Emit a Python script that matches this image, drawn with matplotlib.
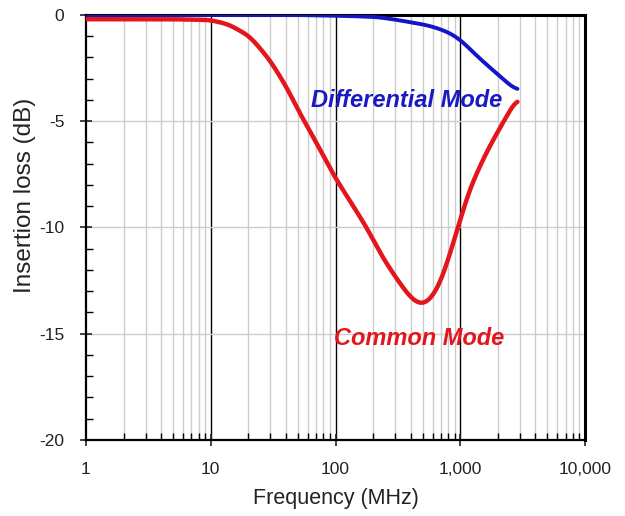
# insertion loss of common mode choke, common vs differential
import numpy as np
import matplotlib
matplotlib.use('Agg')
import matplotlib.pyplot as plt
from matplotlib.ticker import FixedLocator, FuncFormatter, MultipleLocator

plt.rcParams['font.family'] = ['Liberation Sans', 'DejaVu Sans']
plt.rcParams['axes.unicode_minus'] = False

# data
cm_freq = [1, 5, 10, 14, 20.5, 29.6, 40.3, 51.5, 70.1, 98, 129, 176, 238, 325, 413, 497, 597, 722, 982, 1180, 1607, 2180, 2873]
cm_loss = [-0.2, -0.2, -0.24, -0.45, -1.0, -2.1, -3.37, -4.6, -6.0, -7.6, -8.7, -9.96, -11.4, -12.6, -13.4, -13.65, -13.3, -12.35, -9.8, -8.24, -6.5, -5.1, -3.9]
dm_freq = [1, 50, 130, 220, 325, 565, 800, 1000, 1400, 2000, 2873]
dm_loss = [0.0, 0.0, -0.05, -0.1, -0.25, -0.5, -0.8, -1.15, -2.0, -2.8, -3.6]
x_ticks = [1, 10, 100, 1000, 10000]
y_ticks = [0, -5, -10, -15, -20]

fig = plt.figure(figsize=(6.25, 5.16), dpi=100)
ax = fig.add_axes([0.1376, 0.1473, 0.7984, 0.8237])

# grid: light minor, black decades
minor = [m * d for d in [1, 10, 100, 1000] for m in range(2, 10)]
for x in minor:
  ax.axvline(x, color='#cccccc', lw=1, zorder=0)
for x in x_ticks[1:-1]:
  ax.axvline(x, color='black', lw=1, zorder=0)
for y in y_ticks[1:-1]:
  ax.axhline(y, color='#cccccc', lw=1, zorder=0)

# smooth curve through read points (in log-frequency)
def smooth(fr, lo, k=5):
  lx = np.log10(fr)
  xx = np.linspace(lx[0], lx[-1], 500)
  yy = np.interp(xx, lx, lo)
  for _ in range(2):
    yp = np.pad(yy, k, mode='edge')
    yy = np.convolve(yp, np.ones(2 * k + 1) / (2 * k + 1), mode='same')[k:-k]
  return 10 ** xx, yy

x1, y1 = smooth(cm_freq, cm_loss, 6)
x2, y2 = smooth(dm_freq, dm_loss, 8)
ax.plot(x1, y1, color='#e3161c', lw=3.2, solid_capstyle='round', zorder=3)
ax.plot(x2, y2, color='#1414c8', lw=2.8, solid_capstyle='round', zorder=4)

ax.text(64, -4.33, 'Differential Mode', color='#1a1ac4', fontsize=17,
        fontweight='bold', fontstyle='italic', va='baseline', ha='left', zorder=5)
ax.text(98, -15.53, 'Common Mode', color='#e3161c', fontsize=17,
        fontweight='bold', fontstyle='italic', va='baseline', ha='left', zorder=5)

ax.set_xscale('log')
ax.set_xlim(1, 10000)
ax.set_ylim(-20, 0)
ax.xaxis.set_major_locator(FixedLocator(x_ticks))
ax.xaxis.set_minor_locator(FixedLocator(minor))
ax.xaxis.set_major_formatter(FuncFormatter(lambda v, p: '{:,}'.format(int(v))))
ax.xaxis.set_minor_formatter(FuncFormatter(lambda v, p: ''))
ax.yaxis.set_major_locator(FixedLocator(y_ticks))
ax.yaxis.set_minor_locator(MultipleLocator(1))
ax.tick_params(which='major', direction='inout', length=9, width=1.2, labelsize=12.5, colors='#222222')
ax.tick_params(which='minor', direction='in', length=5, width=1)
ax.tick_params(axis='x', which='major', pad=11)
ax.tick_params(axis='y', which='major', pad=11)

for s in ['left', 'bottom']:
  ax.spines[s].set_linewidth(1.6)
for s in ['top', 'right']:
  ax.spines[s].set_linewidth(2.2)

ax.set_xlabel('Frequency (MHz)', fontsize=15.5, color='#222222', labelpad=8)
ax.set_ylabel('Insertion loss (dB)', fontsize=17.5, color='#222222')
ax.yaxis.set_label_coords(-0.1, 0.576)

plt.savefig('out.png', dpi=100)
